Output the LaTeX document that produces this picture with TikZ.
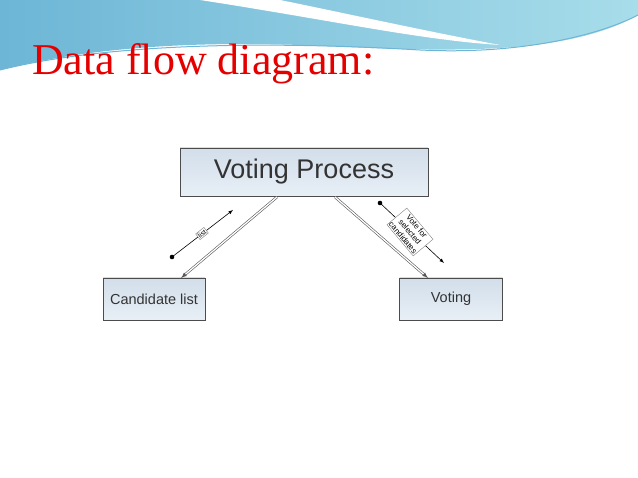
\documentclass[tikz,border=0pt]{standalone}
\usepackage{fontspec}
\setmainfont{Liberation Serif}
\newfontfamily\sansf{Liberation Sans}
\definecolor{bannerA}{HTML}{6DB6D6}
\definecolor{bannerB}{HTML}{A8DDEA}
\definecolor{boxtop}{HTML}{D2DEEA}
\definecolor{boxbot}{HTML}{E8EFF6}
\begin{document}
\begin{tikzpicture}[x=1pt,y=-1pt,
  proc/.style={draw=black!70,line width=0.9pt,top color=boxtop,bottom color=boxbot,font=\sansf,text=black!80},
  flow/.style={double=white,draw=black!65,double distance=1.3pt,line width=0.6pt,-latex},
  lab/.style={draw=black!50,fill=white,font=\sansf\fontsize{6}{6}\selectfont,inner sep=1pt,align=center}]
\useasboundingbox (0,0) rectangle (638,478);
\fill[white] (0,0) rectangle (638,478);
% banner
\shade[left color=bannerA,right color=bannerB] (0,0) -- (638,0) -- (638,15) .. controls (560,60) and (420,50) .. (300,45) .. controls (150,40) and (60,55) .. (0,70) -- cycle;
\fill[white] (200,0) .. controls (330,20) and (420,40) .. (500,45) .. controls (420,30) and (330,10) .. (280,0) -- cycle;
\draw[bannerA,line width=1pt] (0,70) .. controls (100,45) and (250,40) .. (420,50) .. controls (520,55) and (600,35) .. (638,15);
\node[anchor=base west,text=red!90!black,font=\fontsize{44}{44}\selectfont,inner sep=0] (title) at (32,75) {Data flow diagram:};
% nodes
\node[proc,minimum width=248,minimum height=48,font=\sansf\fontsize{27}{27}\selectfont] (vp) at (304,172) {Voting Process};
\node[proc,minimum width=102,minimum height=42,font=\sansf\fontsize{14.5}{14.5}\selectfont] (cl) at (154,299) {Candidate list};
\node[proc,minimum width=103,minimum height=42,font=\sansf\fontsize{14.5}{14.5}\selectfont] (vo) at (451,299) {Voting\strut};
\coordinate (a1) at (277,197); \coordinate (a2) at (181,278);
\coordinate (b1) at (335,197); \coordinate (b2) at (428,278);
\draw[flow] (a1) -- (a2);
\draw[flow] (b1) -- (b2);
% data labels
\coordinate (ls) at (172,257); \coordinate (le) at (233,210);
\fill (ls) circle (2.3);
\draw[-latex,line width=0.6pt] (ls) -- (le);
\node[lab,rotate=38,font=\sansf\fontsize{7}{7}\selectfont] (ll) at (202,233.5) {list};
\coordinate (vs) at (380,203); \coordinate (ve) at (444,263);
\fill (vs) circle (2.3);
\draw[-latex,line width=0.6pt] (vs) -- (ve);
\node[lab,rotate=-50,font=\sansf\fontsize{8}{9}\selectfont] (vl) at (410,232) {Vote for\\selected\\candidates};
\end{tikzpicture}
\end{document}
